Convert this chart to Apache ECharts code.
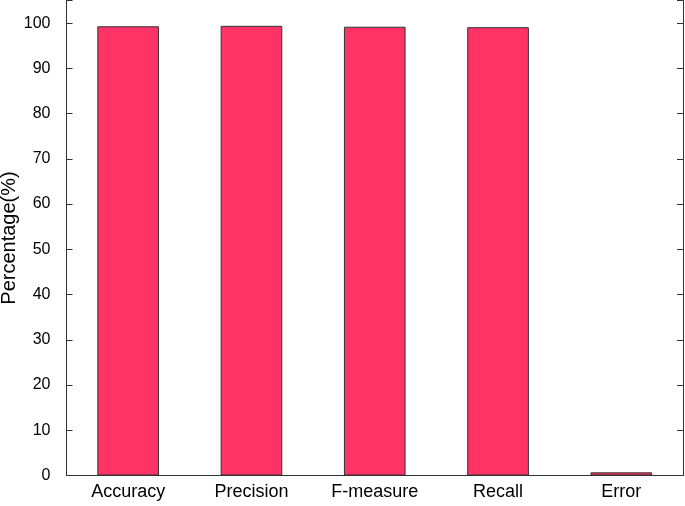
<!DOCTYPE html>
<html>
<head>
<meta charset="utf-8">
<script src="https://cdn.jsdelivr.net/npm/echarts@6/dist/echarts.min.js"></script>
<style>html,body{margin:0;padding:0;background:#fff}#c{width:685px;height:506px}</style>
</head>
<body>
<div id="c"></div>
<script>
const categories = ['Accuracy', 'Precision', 'F-measure', 'Recall', 'Error'];
const values = [99.3, 99.4, 99.2, 99.1, 0.7];
const yTicks = [0, 10, 20, 30, 40, 50, 60, 70, 80, 90, 100];

const chart = echarts.init(document.getElementById('c'), null, {renderer: 'canvas'});
const font = 'Liberation Sans, Arial, sans-serif';
const lineStyle = {color: '#333', width: 1};
chart.setOption({
  animation: false,
  grid: {left: 66.5, right: 2, top: 0.5, bottom: 30.5, outerBoundsMode: 'none', containLabel: false},
  xAxis: [{
    type: 'category', data: categories, position: 'bottom',
    axisLine: {lineStyle}, axisTick: {inside: true, alignWithLabel: true, length: 6, lineStyle},
    axisLabel: {color: '#000', fontSize: 18, fontFamily: font, margin: 8}
  }, {
    type: 'category', data: categories, position: 'top',
    axisLine: {lineStyle}, axisTick: {inside: true, alignWithLabel: true, length: 6, lineStyle},
    axisLabel: {show: false}
  }],
  yAxis: [{
    type: 'value', min: 0, max: 105, interval: 10, position: 'left',
    name: 'Percentage(%)', nameLocation: 'middle', nameGap: 47, nameRotate: 90,
    nameMoveOverlap: false,
    nameTextStyle: {color: '#000', fontSize: 20, fontFamily: font},
    axisLine: {show: true, lineStyle}, axisTick: {show: true, inside: true, length: 6, lineStyle},
    axisLabel: {color: '#000', fontSize: 16, fontFamily: font, margin: 16,
      formatter: v => yTicks.includes(v) ? String(v) : ''},
    splitLine: {show: false}
  }, {
    type: 'value', min: 0, max: 105, interval: 10, position: 'right',
    axisLine: {show: true, lineStyle}, axisTick: {show: true, inside: true, length: 6, lineStyle},
    axisLabel: {show: false}, splitLine: {show: false}
  }],
  series: [{
    type: 'bar', data: values, barWidth: '50%',
    itemStyle: {color: '#FF3366', borderColor: '#333', borderWidth: 1}
  }]
});
</script>
</body>
</html>
